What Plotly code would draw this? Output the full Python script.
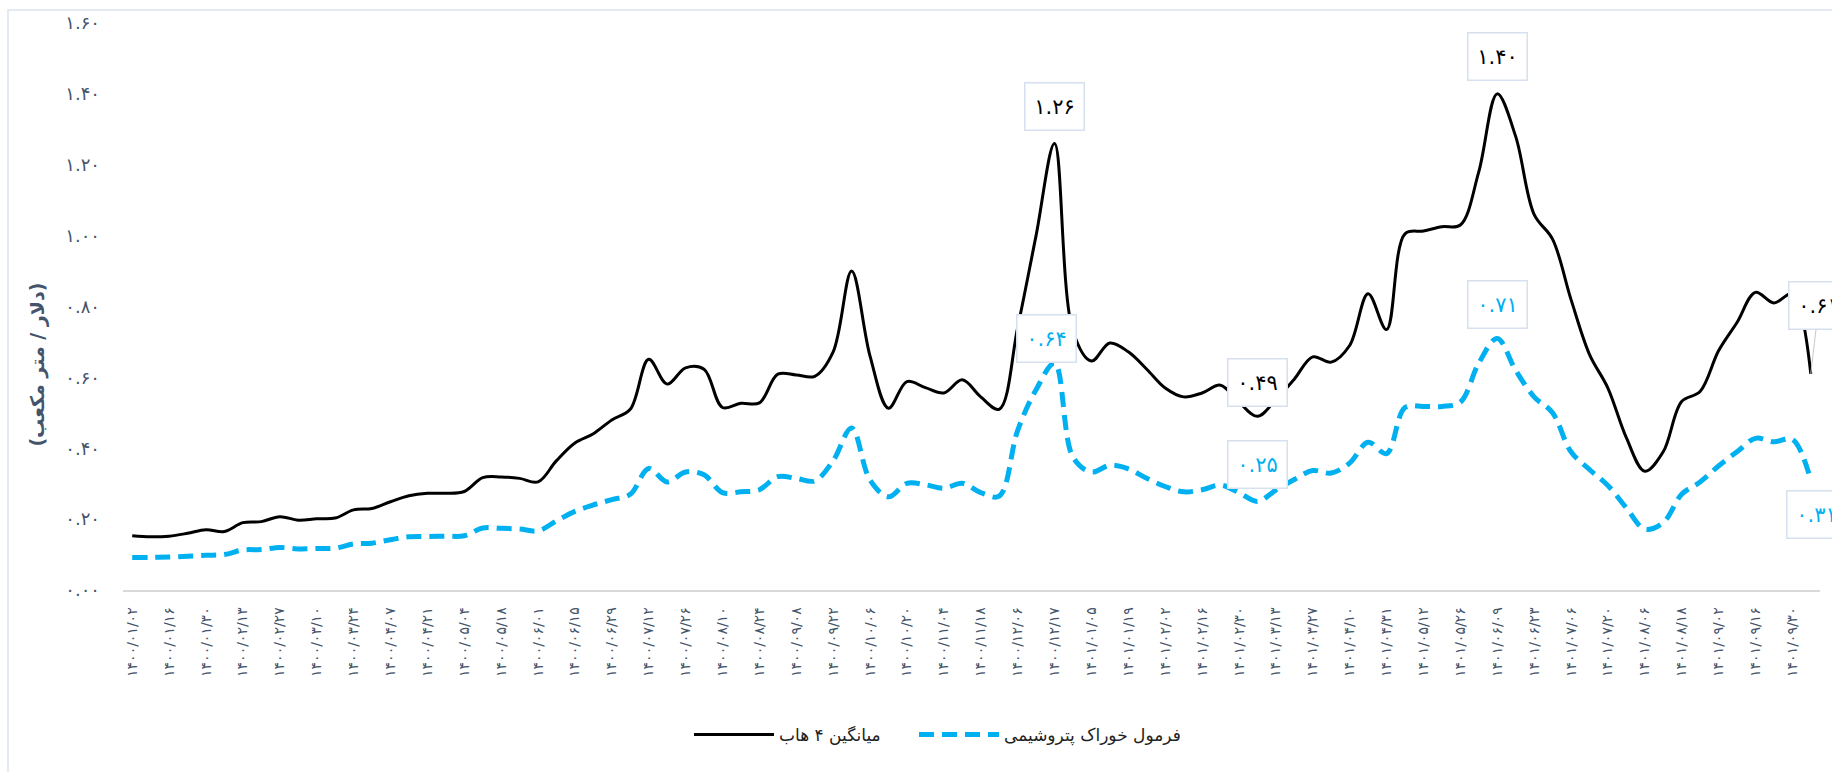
import plotly.graph_objects as go

# ---- data (Jalali dates, weekly) ----
dates = [
    "1400/01/02", "1400/01/09", "1400/01/16", "1400/01/23", "1400/01/30", "1400/02/06",
    "1400/02/13", "1400/02/20", "1400/02/27", "1400/03/03", "1400/03/10", "1400/03/17",
    "1400/03/24", "1400/03/31", "1400/04/07", "1400/04/14", "1400/04/21", "1400/04/28",
    "1400/05/04", "1400/05/11", "1400/05/18", "1400/05/25", "1400/06/01", "1400/06/08",
    "1400/06/15", "1400/06/22", "1400/06/29", "1400/07/05", "1400/07/12", "1400/07/19",
    "1400/07/26", "1400/08/03", "1400/08/10", "1400/08/17", "1400/08/24", "1400/09/01",
    "1400/09/08", "1400/09/15", "1400/09/22", "1400/09/29", "1400/10/06", "1400/10/13",
    "1400/10/20", "1400/10/27", "1400/11/04", "1400/11/11", "1400/11/18", "1400/11/25",
    "1400/12/06", "1400/12/11", "1400/12/17", "1400/12/24", "1401/01/05", "1401/01/12",
    "1401/01/19", "1401/01/26", "1401/02/02", "1401/02/09", "1401/02/16", "1401/02/23",
    "1401/02/30", "1401/03/06", "1401/03/13", "1401/03/20", "1401/03/27", "1401/04/03",
    "1401/04/10", "1401/04/24", "1401/04/31", "1401/05/05", "1401/05/12", "1401/05/19",
    "1401/05/26", "1401/06/02", "1401/06/09", "1401/06/16", "1401/06/23", "1401/06/30",
    "1401/07/06", "1401/07/13", "1401/07/20", "1401/07/27", "1401/08/06", "1401/08/11",
    "1401/08/18", "1401/08/25", "1401/09/02", "1401/09/09", "1401/09/16", "1401/09/23",
    "1401/09/30", "1401/10/07",
]

avg_4_hubs = [
    0.153, 0.150, 0.152, 0.160, 0.170, 0.165, 0.190, 0.193, 0.207, 0.197,
    0.201, 0.203, 0.226, 0.230, 0.249, 0.266, 0.273, 0.273, 0.278, 0.317,
    0.319, 0.315, 0.305, 0.365, 0.415, 0.441, 0.480, 0.510, 0.651, 0.581,
    0.627, 0.623, 0.515, 0.527, 0.528, 0.609, 0.607, 0.603, 0.672, 0.900,
    0.660, 0.513, 0.588, 0.571, 0.556, 0.593, 0.545, 0.510, 0.740, 1.000,
    1.260, 0.730, 0.646, 0.697, 0.672, 0.623, 0.570, 0.545, 0.556, 0.578,
    0.530, 0.490, 0.537, 0.595, 0.658, 0.643, 0.690, 0.836, 0.735, 1.005,
    1.013, 1.025, 1.030, 1.180, 1.400, 1.280, 1.060, 0.990, 0.820, 0.665,
    0.570, 0.430, 0.335, 0.390, 0.532, 0.560, 0.675, 0.755, 0.840, 0.810,
    0.835, 0.610,
]

petchem_formula = [
    0.092, 0.092, 0.093, 0.095, 0.098, 0.100, 0.113, 0.114, 0.120, 0.116,
    0.117, 0.118, 0.130, 0.132, 0.142, 0.150, 0.151, 0.152, 0.153, 0.175,
    0.174, 0.172, 0.167, 0.195, 0.222, 0.240, 0.255, 0.270, 0.343, 0.305,
    0.333, 0.325, 0.275, 0.277, 0.283, 0.320, 0.315, 0.308, 0.365, 0.457,
    0.310, 0.263, 0.301, 0.297, 0.287, 0.301, 0.275, 0.265, 0.450, 0.565,
    0.640, 0.375, 0.333, 0.352, 0.342, 0.315, 0.292, 0.277, 0.283, 0.296,
    0.275, 0.250, 0.282, 0.312, 0.337, 0.330, 0.358, 0.417, 0.385, 0.515,
    0.518, 0.518, 0.530, 0.640, 0.710, 0.620, 0.545, 0.500, 0.390, 0.340,
    0.295, 0.232, 0.172, 0.190, 0.270, 0.305, 0.350, 0.390, 0.428, 0.418,
    0.425, 0.310,
]

name_avg = "میانگین ۴ هاب"
name_petchem = "فرمول خوراک پتروشیمی"
y_title = "(دلار / متر مکعب)"
y_tick_values = [0.0, 0.2, 0.4, 0.6, 0.8, 1.0, 1.2, 1.4, 1.6]

# labelled points (indices into the series)
labelled_avg = [50, 61, 74, 91]
labelled_petchem = [50, 61, 74, 91]

# ---- helpers ----
FA = str.maketrans("0123456789", "۰۱۲۳۴۵۶۷۸۹")


def fa(s):
    return s.translate(FA)


FONT = "DejaVu Sans"
SLATE = "#44546a"
BLUE = "#00b0f0"

L, R, T, B, W, H = 123, 12, 19, 182, 1832, 772
pw, ph = W - L - R, H - T - B

tick_dates = dates[::2]

fig = go.Figure()
fig.add_trace(go.Scatter(
    x=dates, y=avg_4_hubs, name=name_avg, mode="lines", legend="legend",
    line=dict(color="#000000", width=3, shape="spline", smoothing=1.0),
))
fig.add_trace(go.Scatter(
    x=dates, y=petchem_formula, name=name_petchem, mode="lines", legend="legend2",
    line=dict(color=BLUE, width=5, shape="spline", smoothing=1.0, dash="15px,8px"),
))

annotations = []
box = dict(bgcolor="white", bordercolor="#d6e0ee", borderwidth=1.5,
           width=56, height=44, borderpad=1)

label_style = {
    ("avg", 50): dict(xshift=0, yshift=37),
    ("avg", 61): dict(xshift=0, yshift=34),
    ("avg", 74): dict(xshift=0, yshift=37),
    ("pet", 50): dict(xshift=-8, yshift=25),
    ("pet", 61): dict(xshift=0, yshift=37),
    ("pet", 74): dict(xshift=0, yshift=34),
    ("pet", 91): dict(xshift=6, yshift=-34),
}

for key, idxs, vals, color in (("avg", labelled_avg, avg_4_hubs, "#000000"),
                               ("pet", labelled_petchem, petchem_formula, BLUE)):
    for i in idxs:
        txt = fa(f"{vals[i]:.2f}")
        if key == "avg" and i == 91:
            annotations.append(dict(
                x=dates[i], y=vals[i], xref="x", yref="y", text=txt,
                showarrow=True, ax=8, ay=-68, arrowhead=0, arrowwidth=1,
                arrowcolor="#c8c8c8", standoff=0,
                font=dict(family=FONT, size=21, color=color), **box))
        else:
            st = label_style[(key, i)]
            annotations.append(dict(
                x=dates[i], y=vals[i], xref="x", yref="y", text=txt,
                showarrow=False, xanchor="center", yanchor="middle",
                xshift=st["xshift"], yshift=st["yshift"],
                font=dict(family=FONT, size=21, color=color), **box))

annotations.append(dict(
    x=(38 - L) / pw, y=(H - B - 363) / ph, xref="paper", yref="paper",
    text="<b>" + y_title + "</b>", textangle=-90, showarrow=False,
    font=dict(family=FONT, size=19, color=SLATE),
    xanchor="center", yanchor="middle"))

legend_common = dict(orientation="h", y=(H - B - 736) / ph, xanchor="left", yanchor="middle",
                     font=dict(family=FONT, size=17, color="#222222"),
                     itemwidth=80, bgcolor="rgba(0,0,0,0)", borderwidth=0)

fig.update_layout(
    width=W, height=H,
    margin=dict(l=L, r=R, t=T, b=B),
    paper_bgcolor="white", plot_bgcolor="white",
    font=dict(family=FONT, color=SLATE),
    showlegend=True,
    legend=dict(x=(689 - L) / pw, **legend_common),
    legend2=dict(x=(914 - L) / pw, **legend_common),
    annotations=annotations,
    shapes=[dict(type="rect", xref="paper", yref="paper",
                 x0=(8 - L) / pw, x1=1.2, y0=-0.6, y1=(H - B - 6) / ph,
                 line=dict(color="#dce4ef", width=1.5), fillcolor="rgba(0,0,0,0)",
                 layer="below")],
)

fig.update_xaxes(
    type="category", categoryorder="array", categoryarray=dates,
    range=[-0.5, len(dates) - 0.5],
    tickmode="array", tickvals=tick_dates, ticktext=[fa(d) for d in tick_dates],
    tickangle=-90, tickfont=dict(family=FONT, size=14, color=SLATE),
    showgrid=False, zeroline=False, showline=True, linecolor="#d9d9d9", linewidth=1.5,
    ticks="", ticklabelstandoff=10,
)
fig.update_yaxes(
    range=[0, 1.6], tickmode="array", tickvals=y_tick_values,
    ticktext=[fa(f"{v:.2f}") for v in y_tick_values],
    tickfont=dict(family=FONT, size=18, color=SLATE),
    showgrid=False, zeroline=False, showline=False, ticks="", ticklabelstandoff=22,
)

fig.write_html("out.html", config={"displayModeBar": False},
               post_script="document.body.style.margin='0px';")
